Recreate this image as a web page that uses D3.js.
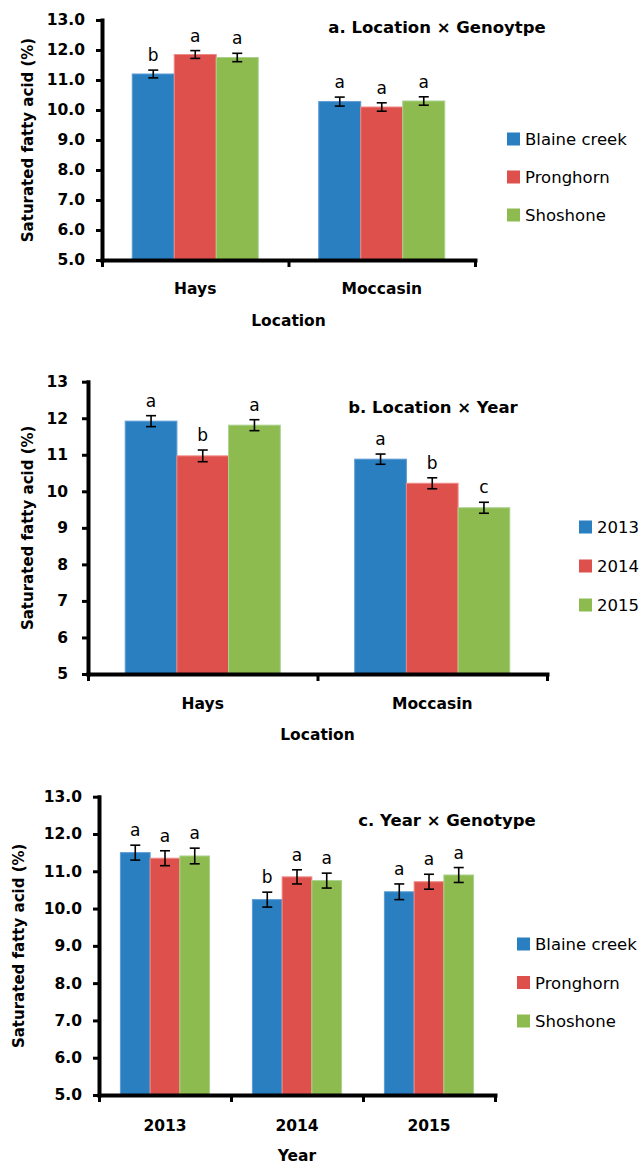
<!DOCTYPE html>
<html>
<head>
<meta charset="utf-8">
<script src="https://cdn.jsdelivr.net/npm/d3@7"></script>
<style>
  body { margin: 0; background: #fff; }
  svg { display: block; }
  text { font-family: "DejaVu Sans", sans-serif; fill: #000; }
</style>
</head>
<body>
<svg id="chart" width="640" height="1165"></svg>
<script>
// ---- Data ----
const genotypes = ["Blaine creek", "Pronghorn", "Shoshone"];
const years = ["2013", "2014", "2015"];
const locations = ["Hays", "Moccasin"];
const yTicks = [5, 6, 7, 8, 9, 10, 11, 12, 13];

// a. Location × Genotype (rows: location, columns: genotype)
const locGenoMean = [[11.20, 11.85, 11.75], [10.28, 10.10, 10.30]];
const locGenoSE = [[0.13, 0.13, 0.14], [0.15, 0.14, 0.14]];
const locGenoLetters = [["b", "a", "a"], ["a", "a", "a"]];

// b. Location × Year (rows: location, columns: year)
const locYearMean = [[11.92, 10.97, 11.81], [10.88, 10.22, 9.55]];
const locYearSE = [[0.15, 0.16, 0.15], [0.14, 0.15, 0.15]];
const locYearLetters = [["a", "b", "a"], ["a", "b", "c"]];

// c. Year × Genotype (rows: year, columns: genotype)
const yearGenoMean = [[11.50, 11.35, 11.41], [10.24, 10.85, 10.75], [10.45, 10.72, 10.90]];
const yearGenoSE = [[0.20, 0.20, 0.21], [0.20, 0.19, 0.20], [0.21, 0.20, 0.20]];
const yearGenoLetters = [["a", "a", "a"], ["b", "a", "a"], ["a", "a", "a"]];

// ---- Styling ----
const fills = ["#2A7FC1", "#DE504C", "#8DBB50"];
const edges = ["#5B9BD5", "#EE8A86", "#A9D18E"];
const axisWidth = 4;

const svg = d3.select("#chart");

function drawPanel(cfg) {
  const g = svg.append("g");

  const y = d3.scaleLinear().domain([5, 13]).range([cfg.bottom, cfg.top]);
  const x = d3.scaleBand().domain(cfg.categories).range([cfg.left, cfg.right]).padding(0);
  const xs = d3.scaleBand()
    .domain(d3.range(cfg.series.length))
    .range([0, x.bandwidth()])
    .paddingInner(0)
    .paddingOuter(0.72);
  const xEdge = d3.scaleLinear().domain([0, cfg.categories.length]).range([cfg.left, cfg.right]);

  const rows = cfg.categories.flatMap((c, i) => cfg.series.map((s, j) => ({
    c, j, mean: cfg.mean[i][j], se: cfg.se[i][j], letter: cfg.letters[i][j]
  })));

  // bars
  g.append("g").selectAll("rect").data(rows).join("rect")
    .attr("x", d => x(d.c) + xs(d.j))
    .attr("y", d => y(d.mean))
    .attr("width", xs.bandwidth())
    .attr("height", d => y(5) - y(d.mean))
    .attr("fill", d => fills[d.j])
    .attr("stroke", d => edges[d.j])
    .attr("stroke-width", 1);

  // error bars
  const eb = g.append("g").attr("stroke", "#000").attr("stroke-width", 1.6);
  const cx = d => x(d.c) + xs(d.j) + xs.bandwidth() / 2;
  eb.selectAll("line.v").data(rows).join("line").attr("class", "v")
    .attr("x1", cx).attr("x2", cx)
    .attr("y1", d => y(d.mean - d.se)).attr("y2", d => y(d.mean + d.se));
  eb.selectAll("line.t").data(rows).join("line").attr("class", "t")
    .attr("x1", d => cx(d) - 5).attr("x2", d => cx(d) + 5)
    .attr("y1", d => y(d.mean + d.se)).attr("y2", d => y(d.mean + d.se));
  eb.selectAll("line.b").data(rows).join("line").attr("class", "b")
    .attr("x1", d => cx(d) - 5).attr("x2", d => cx(d) + 5)
    .attr("y1", d => y(d.mean - d.se)).attr("y2", d => y(d.mean - d.se));

  // significance letters
  g.append("g").selectAll("text").data(rows).join("text")
    .attr("x", cx)
    .attr("y", d => y(d.mean + d.se) - 9)
    .attr("text-anchor", "middle")
    .attr("font-size", 17)
    .text(d => d.letter);

  // y axis
  const ya = g.append("g")
    .attr("transform", `translate(${cfg.left},0)`)
    .call(d3.axisLeft(y).tickValues(yTicks).tickFormat(cfg.fmt)
      .tickSize(6).tickSizeOuter(0).tickPadding(cfg.tickPad));
  ya.select(".domain").attr("stroke-width", axisWidth).attr("stroke-linecap", "square");
  ya.selectAll(".tick line").attr("stroke-width", 3);
  ya.selectAll(".tick text")
    .attr("font-family", "DejaVu Sans").attr("font-weight", "bold").attr("font-size", 15.5);

  // x axis (ticks at category boundaries)
  const xa = g.append("g")
    .attr("transform", `translate(0,${y(5)})`)
    .call(d3.axisBottom(xEdge).tickValues(d3.range(cfg.categories.length + 1))
      .tickFormat("").tickSize(7).tickSizeOuter(0));
  xa.select(".domain").attr("stroke-width", axisWidth).attr("stroke-linecap", "square");
  xa.selectAll(".tick line").attr("stroke-width", 3);

  // category labels
  g.append("g").selectAll("text").data(cfg.categories).join("text")
    .attr("x", d => x(d) + x.bandwidth() / 2)
    .attr("y", cfg.catY)
    .attr("text-anchor", "middle")
    .attr("font-weight", "bold")
    .attr("font-size", 15.5)
    .text(d => d);

  // axis titles
  g.append("text")
    .attr("x", (cfg.left + cfg.right) / 2)
    .attr("y", cfg.xTitleY)
    .attr("text-anchor", "middle")
    .attr("font-weight", "bold")
    .attr("font-size", 15.5)
    .text(cfg.xTitle);

  g.append("text")
    .attr("transform", `translate(${cfg.yTitleX},${(cfg.top + cfg.bottom) / 2}) rotate(-90)`)
    .attr("text-anchor", "middle")
    .attr("font-weight", "bold")
    .attr("font-size", 15)
    .text("Saturated fatty acid (%)");

  // panel title
  g.append("text")
    .attr("x", cfg.titleX)
    .attr("y", cfg.titleY)
    .attr("text-anchor", "middle")
    .attr("font-weight", "bold")
    .attr("font-size", 16.5)
    .text(cfg.title);

  // legend
  const lg = g.append("g").selectAll("g").data(cfg.series).join("g")
    .attr("transform", (d, i) => `translate(${cfg.legendX},${cfg.legendY + i * cfg.legendStep})`);
  lg.append("rect")
    .attr("x", 0).attr("y", -6.5).attr("width", 13).attr("height", 13)
    .attr("fill", (d, i) => fills[i]);
  lg.append("text")
    .attr("x", 18).attr("y", 6)
    .attr("font-size", 16.5)
    .text(d => d);
}

drawPanel({
  categories: locations, series: genotypes,
  mean: locGenoMean, se: locGenoSE, letters: locGenoLetters,
  left: 102, right: 475, top: 20, bottom: 260,
  fmt: d3.format(".1f"), tickPad: 11,
  catY: 294, xTitle: "Location", xTitleY: 326, yTitleX: 33,
  title: "a. Location × Genoytpe", titleX: 437, titleY: 33,
  legendX: 507, legendY: 139, legendStep: 38
});

drawPanel({
  categories: locations, series: years,
  mean: locYearMean, se: locYearSE, letters: locYearLetters,
  left: 88, right: 547, top: 381.7, bottom: 674,
  fmt: d3.format("d"), tickPad: 14,
  catY: 709, xTitle: "Location", xTitleY: 740, yTitleX: 33,
  title: "b. Location × Year", titleX: 433, titleY: 413,
  legendX: 579, legendY: 527, legendStep: 39
});

drawPanel({
  categories: years, series: genotypes,
  mean: yearGenoMean, se: yearGenoSE, letters: yearGenoLetters,
  left: 99, right: 495, top: 796.7, bottom: 1095,
  fmt: d3.format(".1f"), tickPad: 11,
  catY: 1131, xTitle: "Year", xTitleY: 1161, yTitleX: 24,
  title: "c. Year × Genotype", titleX: 447, titleY: 826,
  legendX: 517, legendY: 944, legendStep: 38.5
});
</script>
</body>
</html>
